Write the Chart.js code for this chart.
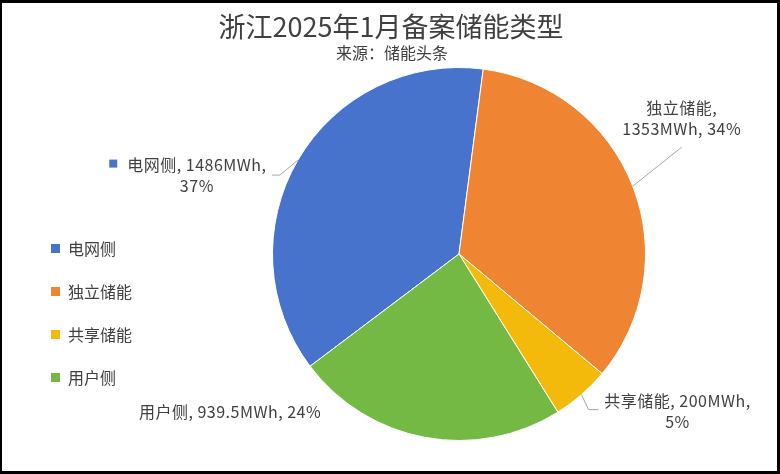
<!DOCTYPE html>
<html>
<head>
<meta charset="utf-8">
<script src="https://cdn.jsdelivr.net/npm/chart.js@4"></script>
<style>
  html, body { margin: 0; padding: 0; background: #fff; }
  #chart { display: block; }
</style>
</head>
<body>
<canvas id="chart" width="780" height="474"></canvas>
<script>
// data
const categories = ['电网侧', '独立储能', '共享储能', '用户侧'];
const values = [1486, 1353, 200, 939.5];
const colors = ['#4773CC', '#EF8533', '#F3BA0B', '#75B945'];
const unit = 'MWh';
const titleText = '浙江2025年1月备案储能类型';
const subtitleText = '来源：储能头条';

// how many comma-separated parts go on the first line of each data label
const firstLineParts = [2, 1, 2, 3];
// label centre relative to the slice's outer midpoint, and leader polyline (relative too)
const labelPlacement = [
    { dx: -101, dy: 15, leader: [[-18, 15], [-26, 15]], key: true },
    { dx: 49, dy: -68, leader: [[49, -39]] },
    { dx: 96, dy: 17, leader: [[7, 15], [17, 15]] },
    { dx: -195, dy: -25, leader: null }
];

const FONT = '"Noto Sans CJK SC", "Noto Sans", sans-serif';
const TEXT = '#404040';

const total = values.reduce((a, b) => a + b, 0);

const decorations = {
    id: 'decorations',
    afterDraw(chart) {
        const ctx = chart.ctx;
        ctx.save();

        // title + subtitle
        ctx.fillStyle = TEXT;
        ctx.textAlign = 'center';
        ctx.textBaseline = 'middle';
        ctx.font = '27px ' + FONT;
        ctx.fillText(titleText, 391, 27);
        ctx.font = '16px ' + FONT;
        ctx.fillText(subtitleText, 392, 53);

        // legend
        ctx.textAlign = 'left';
        categories.forEach((c, i) => {
            const y = 249 + i * 43;
            ctx.fillStyle = colors[i];
            ctx.fillRect(51, y - 5, 9, 9);
            ctx.fillStyle = TEXT;
            ctx.fillText(c, 68, y);
        });

        // data labels
        const arcs = chart.getDatasetMeta(0).data;
        arcs.forEach((arc, i) => {
            const mid = (arc.startAngle + arc.endAngle) / 2;
            const ex = arc.x + Math.cos(mid) * arc.outerRadius;
            const ey = arc.y + Math.sin(mid) * arc.outerRadius;
            const p = labelPlacement[i];

            if (p.leader) {
                ctx.strokeStyle = '#A6A6A6';
                ctx.lineWidth = 1;
                ctx.beginPath();
                ctx.moveTo(ex, ey);
                p.leader.forEach(pt => ctx.lineTo(ex + pt[0], ey + pt[1]));
                ctx.stroke();
            }

            const pct = Math.round(values[i] / total * 100);
            const parts = [categories[i], values[i] + unit, pct + '%'];
            const n = firstLineParts[i];
            const lines = [parts.slice(0, n).join(', ') + (n < 3 ? ',' : '')];
            if (n < 3) lines.push(parts.slice(n).join(', '));

            const cx = ex + p.dx;
            const cy = ey + p.dy;
            const lh = 21;
            const y0 = cy - (lines.length - 1) * lh / 2;
            ctx.font = '16px ' + FONT;
            ctx.letterSpacing = '0.5px';
            ctx.textAlign = 'center';
            ctx.fillStyle = TEXT;
            lines.forEach((l, k) => ctx.fillText(l, cx, y0 + k * lh));
            if (p.key) {
                const w = ctx.measureText(lines[0]).width;
                ctx.fillStyle = colors[i];
                ctx.fillRect(cx - w / 2 - 18, y0 - 5, 8, 8);
            }
            ctx.letterSpacing = '0px';
        });

        // outer frame
        ctx.fillStyle = '#000';
        const W = chart.width, H = chart.height;
        ctx.fillRect(0, 0, W, 3);
        ctx.fillRect(0, H - 3, W, 3);
        ctx.fillRect(0, 0, 2, H);
        ctx.fillRect(W - 3, 0, 3, H);
        ctx.restore();
    }
};

new Chart(document.getElementById('chart'), {
    type: 'pie',
    data: {
        labels: categories,
        datasets: [{
            data: values,
            backgroundColor: colors,
            borderColor: '#FFFFFF',
            borderWidth: 1
        }]
    },
    options: {
        responsive: false,
        animation: false,
        rotation: 233,
        layout: { padding: { left: 272, right: 134, top: 67, bottom: 33 } },
        plugins: {
            legend: { display: false },
            title: { display: false },
            tooltip: { enabled: false }
        }
    },
    plugins: [decorations]
});
</script>
</body>
</html>
